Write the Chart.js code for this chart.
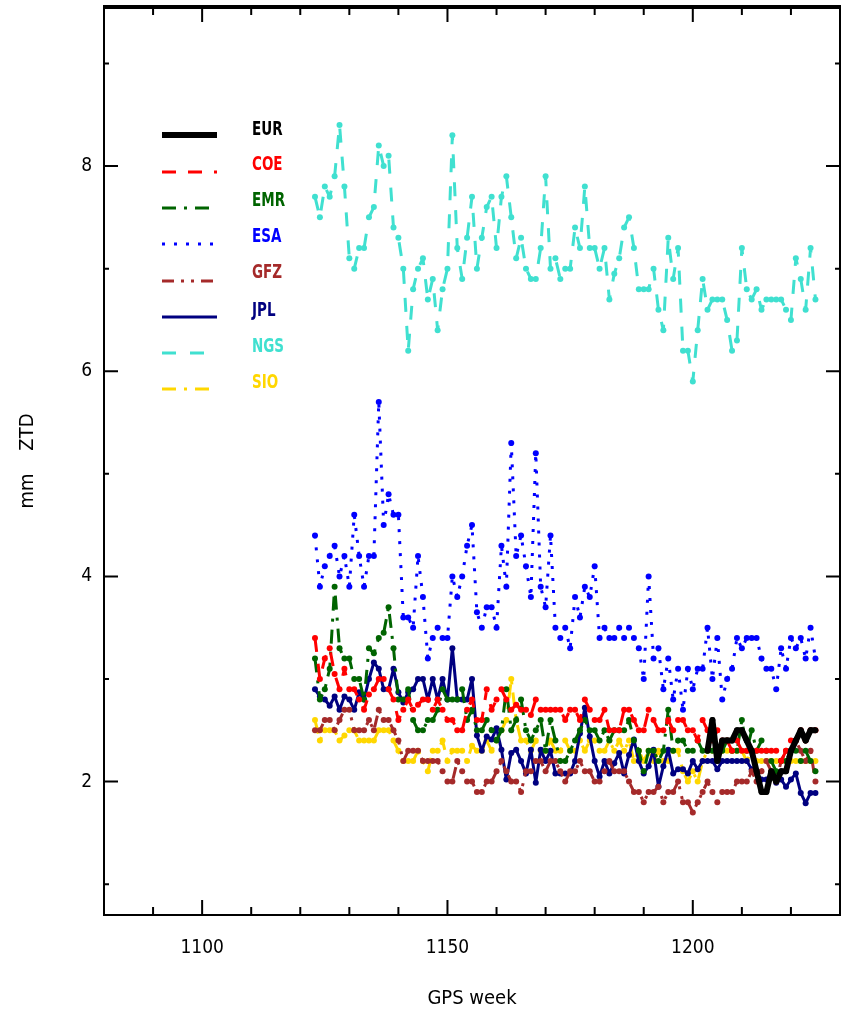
<!DOCTYPE html>
<html>
<head>
<meta charset="utf-8">
<title>ZTD by analysis centre</title>
<script src="https://cdn.jsdelivr.net/npm/chart.js@4/dist/chart.umd.min.js"></script>
<style>
  html, body { margin: 0; padding: 0; background: #fff; }
  #wrap { width: 851px; height: 1019px; }
</style>
</head>
<body>
<div id="wrap"><canvas id="ztdChart" width="851" height="1019"></canvas></div>
<script>
// GPS weeks (x values)
const weeks = [
  1123, 1124, 1125, 1126, 1127, 1128, 1129, 1130, 1131, 1132,
  1133, 1134, 1135, 1136, 1137, 1138, 1139, 1140, 1141, 1142,
  1143, 1144, 1145, 1146, 1147, 1148, 1149, 1150, 1151, 1152,
  1153, 1154, 1155, 1156, 1157, 1158, 1159, 1160, 1161, 1162,
  1163, 1164, 1165, 1166, 1167, 1168, 1169, 1170, 1171, 1172,
  1173, 1174, 1175, 1176, 1177, 1178, 1179, 1180, 1181, 1182,
  1183, 1184, 1185, 1186, 1187, 1188, 1189, 1190, 1191, 1192,
  1193, 1194, 1195, 1196, 1197, 1198, 1199, 1200, 1201, 1202,
  1203, 1204, 1205, 1206, 1207, 1208, 1209, 1210, 1211, 1212,
  1213, 1214, 1215, 1216, 1217, 1218, 1219, 1220, 1221, 1222,
  1223, 1224, 1225
];
const eurWeeks = [
  1203, 1204, 1205, 1206, 1207, 1208, 1209, 1210, 1211, 1212,
  1213, 1214, 1215, 1216, 1217, 1218, 1219, 1220, 1221, 1222,
  1223, 1224, 1225
];

// mm ZTD per centre
const eur = [
  2.3, 2.6, 2.2, 2.4, 2.4, 2.4, 2.5, 2.5, 2.4, 2.3,
  2.1, 1.9, 1.9, 2.1, 2.0, 2.1, 2.1, 2.3, 2.4, 2.5,
  2.4, 2.5, 2.5
];
const coe = [
  3.4, 3.0, 3.2, 3.3, 3.05, 2.9, 3.1, 2.9, 2.9, 2.8,
  2.7, 2.85, 2.9, 3.0, 3.0, 2.9, 2.8, 2.6, 2.7, 2.8,
  2.7, 2.75, 2.8, 2.8, 2.7, 2.8, 2.7, 2.6, 2.6, 2.5,
  2.5, 2.7, 2.8, 2.6, 2.6, 2.9, 2.7, 2.8, 2.9, 2.8,
  2.7, 2.75, 2.7, 2.7, 2.65, 2.8, 2.7, 2.7, 2.7, 2.7,
  2.7, 2.6, 2.7, 2.7, 2.6, 2.8, 2.7, 2.6, 2.6, 2.7,
  2.5, 2.5, 2.5, 2.7, 2.7, 2.6, 2.5, 2.5, 2.7, 2.6,
  2.5, 2.5, 2.6, 2.5, 2.6, 2.6, 2.5, 2.5, 2.4, 2.6,
  2.5, 2.4, 2.5, 2.4, 2.4, 2.3, 2.4, 2.3, 2.3, 2.3,
  2.3, 2.3, 2.3, 2.3, 2.3, 2.2, 2.3, 2.4, 2.4, 2.5,
  2.4, 2.5, 2.5
];
const emr = [
  3.2, 2.8, 2.9, 3.1, 3.9, 3.3, 3.2, 3.2, 3.0, 3.0,
  2.8, 3.3, 3.25, 3.4, 3.45, 3.7, 3.3, 2.8, 2.8, 2.9,
  2.6, 2.5, 2.5, 2.6, 2.6, 2.7, 2.9, 2.8, 2.8, 2.8,
  2.9, 2.6, 2.7, 2.5, 2.5, 2.6, 2.5, 2.4, 2.5, 2.9,
  2.5, 2.6, 2.8, 2.5, 2.4, 2.5, 2.6, 2.3, 2.6, 2.4,
  2.2, 2.2, 2.3, 2.4, 2.5, 2.6, 2.5, 2.5, 2.4, 2.5,
  2.4, 2.5, 2.5, 2.5, 2.6, 2.4, 2.3, 2.1, 2.3, 2.3,
  2.2, 2.3, 2.7, 2.3, 2.4, 2.4, 2.3, 2.3, 2.4, 2.3,
  2.3, 2.3, 2.3, 2.3, 2.4, 2.3, 2.3, 2.6, 2.3, 2.5,
  2.3, 2.4, 2.3, 2.2, 2.1, 2.2, 2.2, 2.3, 2.3, 2.2,
  2.3, 2.2, 2.1
];
const esa = [
  4.4, 3.9, 4.1, 4.2, 4.3, 4.0, 4.2, 3.9, 4.6, 4.2,
  3.9, 4.2, 4.2, 5.7, 4.5, 4.8, 4.6, 4.6, 3.6, 3.6,
  3.5, 4.2, 3.8, 3.2, 3.4, 3.5, 3.4, 3.4, 4.0, 3.8,
  4.0, 4.3, 4.5, 3.65, 3.5, 3.7, 3.7, 3.5, 4.3, 3.9,
  5.3, 4.2, 4.4, 4.1, 3.8, 5.2, 3.9, 3.7, 4.4, 3.5,
  3.4, 3.5, 3.3, 3.8, 3.6, 3.9, 3.8, 4.1, 3.4, 3.5,
  3.4, 3.4, 3.5, 3.4, 3.5, 3.4, 3.3, 3.0, 4.0, 3.2,
  3.3, 2.9, 3.2, 2.8, 3.1, 2.7, 3.1, 2.9, 3.1, 3.1,
  3.5, 3.0, 3.4, 2.8, 3.0, 3.1, 3.4, 3.3, 3.4, 3.4,
  3.4, 3.2, 3.1, 3.1, 2.9, 3.3, 3.1, 3.4, 3.3, 3.4,
  3.2, 3.5, 3.2
];
const gfz = [
  2.5, 2.5, 2.6, 2.6, 2.5, 2.6, 2.7, 2.7, 2.5, 2.5,
  2.5, 2.6, 2.5, 2.7, 2.6, 2.6, 2.5, 2.4, 2.2, 2.3,
  2.3, 2.3, 2.2, 2.2, 2.2, 2.2, 2.1, 2.0, 2.0, 2.2,
  2.1, 2.0, 2.0, 1.9, 1.9, 2.0, 2.0, 2.1, 2.2, 2.1,
  2.0, 2.0, 1.9, 2.1, 2.1, 2.2, 2.2, 2.1, 2.2, 2.2,
  2.1, 2.0, 2.1, 2.1, 2.2, 2.1, 2.1, 2.0, 2.0, 2.1,
  2.2, 2.1, 2.1, 2.1, 2.0, 1.9, 1.9, 1.8, 1.9, 1.9,
  1.95, 1.8, 1.9, 1.9, 2.0, 1.8, 1.8, 1.7, 1.8, 1.9,
  2.0, 1.9, 1.8, 1.9, 1.9, 1.9, 2.0, 2.0, 2.0, 2.1,
  2.0, 2.1, 2.2, 2.1, 2.0, 2.2, 2.3, 2.3, 2.4, 2.3,
  2.2, 2.3, 2.0
];
const jpl = [
  2.9, 2.83, 2.8, 2.74, 2.83, 2.7, 2.83, 2.8, 2.7, 2.87,
  2.8, 3.0, 3.16, 3.1, 2.9, 2.9, 3.1, 2.87, 2.77, 2.87,
  2.9, 3.0, 3.0, 2.8, 3.0, 2.8, 3.0, 2.8, 3.3, 2.8,
  2.8, 2.8, 3.0, 2.45, 2.3, 2.44, 2.41, 2.52, 2.31, 2.02,
  2.28, 2.31, 2.2, 2.08, 2.31, 1.99, 2.31, 2.2, 2.3, 2.08,
  2.08, 2.08, 2.08, 2.2, 2.47, 2.72, 2.44, 2.2, 2.05, 2.2,
  2.08, 2.18, 2.28, 2.08, 2.26, 2.41, 2.2, 2.08, 2.15, 2.31,
  1.95, 2.15, 2.31, 2.08, 2.12, 2.12, 2.08, 2.2, 2.12, 2.2,
  2.2, 2.2, 2.12, 2.2, 2.2, 2.2, 2.2, 2.2, 2.2, 2.12,
  2.08, 2.02, 2.02, 2.08, 1.99, 2.02, 1.95, 2.02, 2.08, 1.89,
  1.79, 1.89, 1.89
];
const ngs = [
  7.7, 7.5, 7.8, 7.7, 7.9, 8.4, 7.8, 7.1, 7.0, 7.2,
  7.2, 7.5, 7.6, 8.2, 8.0, 8.1, 7.4, 7.3, 7.0, 6.2,
  6.8, 7.0, 7.1, 6.7, 6.9, 6.4, 6.8, 7.0, 8.3, 7.2,
  6.9, 7.3, 7.7, 7.0, 7.3, 7.6, 7.7, 7.2, 7.7, 7.9,
  7.5, 7.1, 7.3, 7.0, 6.9, 6.9, 7.2, 7.9, 7.0, 7.1,
  6.9, 7.0, 7.0, 7.4, 7.2, 7.8, 7.2, 7.2, 7.0, 7.2,
  6.7, 6.95, 7.1, 7.4, 7.5, 7.2, 6.8, 6.8, 6.8, 7.0,
  6.6, 6.4, 7.3, 6.9, 7.2, 6.2, 6.2, 5.9, 6.4, 6.9,
  6.6, 6.7, 6.7, 6.7, 6.5, 6.2, 6.3, 7.2, 6.8, 6.7,
  6.8, 6.6, 6.7, 6.7, 6.7, 6.7, 6.6, 6.5, 7.1, 6.9,
  6.6, 7.2, 6.7
];
const sio = [
  2.6, 2.4, 2.5, 2.5, 2.5, 2.4, 2.45, 2.5, 2.5, 2.4,
  2.4, 2.4, 2.4, 2.5, 2.5, 2.5, 2.4, 2.3, 2.2, 2.2,
  2.2, 2.3, 2.2, 2.1, 2.3, 2.3, 2.4, 2.2, 2.3, 2.3,
  2.3, 2.2, 2.35, 2.3, 2.3, 2.4, 2.3, 2.4, 2.5, 2.6,
  3.0, 2.6, 2.4, 2.4, 2.3, 2.4, 2.3, 2.3, 2.4, 2.3,
  2.3, 2.4, 2.3, 2.3, 2.4, 2.3, 2.4, 2.4, 2.3, 2.3,
  2.4, 2.3, 2.4, 2.3, 2.4, 2.2, 2.3, 2.2, 2.3, 2.2,
  2.3, 2.2, 2.2, 2.3, 2.3, 2.1, 2.0, 2.1, 2.0, 2.2,
  2.3, 2.3, 2.3, 2.3, 2.3, 2.3, 2.3, 2.3, 2.2, 2.3,
  2.2, 2.2, 2.2, 2.2, 2.2, 2.2, 2.2, 2.2, 2.2, 2.2,
  2.2, 2.2, 2.2
];

// axis ticks
const xLabelTicks = [1100, 1150, 1200];
const xTickMarks = [1090, 1100, 1110, 1120, 1130, 1140, 1150, 1160, 1170, 1180, 1190, 1200, 1210, 1220];
const yLabelTicks = [2, 4, 6, 8];
const yTickMarks = [1, 2, 3, 4, 5, 6, 7, 8, 9];

const NARROW = "'Liberation Sans Narrow', 'DejaVu Sans Condensed', 'Liberation Sans', sans-serif";

function pts(xs, ys) {
  return xs.map((x, i) => ({ x: x, y: ys[i] }));
}

function series(label, xs, ys, color, dash, width) {
  return {
    label: label,
    data: pts(xs, ys),
    borderColor: color,
    backgroundColor: color,
    borderWidth: width,
    borderDash: dash,
    borderJoinStyle: 'round',
    pointRadius: 3,
    pointBorderWidth: 0,
    pointBackgroundColor: color,
    tension: 0,
    fill: false
  };
}

// frame + inward tick marks, like the original plot
const framePlugin = {
  id: 'frame',
  afterDatasetsDraw(chart) {
    const { ctx, chartArea: a, scales: { x, y } } = chart;
    ctx.save();
    ctx.strokeStyle = '#000';
    ctx.lineWidth = 2;
    ctx.strokeRect(a.left, a.top, a.right - a.left, a.bottom - a.top);
    ctx.lineWidth = 4;
    ctx.beginPath();
    ctx.moveTo(a.left - 1, a.top);
    ctx.lineTo(a.right + 1, a.top);
    ctx.stroke();
    ctx.lineWidth = 2;
    xTickMarks.forEach(v => {
      const px = x.getPixelForValue(v);
      const len = v % 50 === 0 ? 15 : 8;
      ctx.beginPath();
      ctx.moveTo(px, a.bottom);
      ctx.lineTo(px, a.bottom - len);
      ctx.moveTo(px, a.top);
      ctx.lineTo(px, a.top + len);
      ctx.stroke();
    });
    yTickMarks.forEach(v => {
      const py = y.getPixelForValue(v);
      const len = v % 2 === 0 ? 14 : 5;
      ctx.beginPath();
      ctx.moveTo(a.left, py);
      ctx.lineTo(a.left + len, py);
      ctx.moveTo(a.right, py);
      ctx.lineTo(a.right - len, py);
      ctx.stroke();
    });
    ctx.restore();
  }
};

// hand-placed legend in the upper left of the plot
const legendPlugin = {
  id: 'sampleLegend',
  afterDraw(chart) {
    const { ctx } = chart;
    const rowsLine = [135, 172, 208, 244, 281, 317, 353, 389];
    const rowsText = [130, 165, 201, 237, 273, 311, 347, 383];
    ctx.save();
    chart.data.datasets.forEach((ds, i) => {
      ctx.strokeStyle = ds.borderColor;
      ctx.lineWidth = ds.borderWidth;
      ctx.setLineDash(ds.borderDash || []);
      ctx.beginPath();
      ctx.moveTo(162, rowsLine[i]);
      ctx.lineTo(217, rowsLine[i]);
      ctx.stroke();
      ctx.setLineDash([]);
      ctx.fillStyle = ds.borderColor;
      ctx.font = 'bold 15px ' + NARROW;
      ctx.textBaseline = 'middle';
      ctx.textAlign = 'left';
      ctx.save();
      ctx.translate(252, rowsText[i]);
      ctx.scale(1, 1.3);
      ctx.fillText(ds.label, 0, 0);
      ctx.restore();
    });
    ctx.restore();
  }
};

const chartCanvas = document.getElementById('ztdChart');
new Chart(chartCanvas, {
  type: 'line',
  data: {
    datasets: [
      series('EUR', eurWeeks, eur, '#000000', [], 6),
      series('COE', weeks, coe, '#ff0000', [14, 12], 3),
      series('EMR', weeks, emr, '#006400', [14, 8, 3, 8], 3),
      series('ESA', weeks, esa, '#0000ff', [3, 9], 3),
      series('GFZ', weeks, gfz, '#a52a2a', [12, 7, 3, 7, 3, 7], 3),
      series('JPL', weeks, jpl, '#000080', [], 3),
      series('NGS', weeks, ngs, '#40e0d0', [14, 14], 3),
      series('SIO', weeks, sio, '#ffd700', [14, 8, 3, 8], 3)
    ]
  },
  options: {
    responsive: false,
    animation: false,
    devicePixelRatio: 1,
    layout: { padding: { top: 7, right: 11, left: 0, bottom: 0 } },
    plugins: {
      legend: { display: false },
      tooltip: { enabled: false }
    },
    scales: {
      x: {
        type: 'linear',
        min: 1080,
        max: 1230,
        afterBuildTicks: scale => { scale.ticks = xLabelTicks.map(v => ({ value: v })); },
        afterFit: scale => {
          scale.height = 104;
          scale.paddingLeft = 0;
          scale.paddingRight = 0;
        },
        grid: { display: false, drawTicks: false },
        border: { display: false },
        ticks: {
          color: '#000',
          padding: 22,
          maxRotation: 0,
          font: { family: NARROW, size: 19 },
          callback: v => String(v)
        },
        title: {
          display: true,
          text: 'GPS week',
          color: '#000',
          padding: { top: 0, bottom: 8 },
          font: { family: NARROW, size: 20 }
        }
      },
      y: {
        type: 'linear',
        min: 0.7,
        max: 9.55,
        afterBuildTicks: scale => { scale.ticks = yLabelTicks.map(v => ({ value: v })); },
        afterFit: scale => {
          scale.width = 104;
          scale.paddingTop = 0;
          scale.paddingBottom = 0;
        },
        grid: { display: false, drawTicks: false },
        border: { display: false },
        ticks: {
          color: '#000',
          padding: 12,
          font: { family: NARROW, size: 19 },
          callback: v => String(v)
        },
        title: {
          display: true,
          text: 'mm    ZTD',
          color: '#000',
          padding: { top: 16, bottom: 0 },
          font: { family: NARROW, size: 20 }
        }
      }
    }
  },
  plugins: [framePlugin, legendPlugin]
});
</script>
</body>
</html>
